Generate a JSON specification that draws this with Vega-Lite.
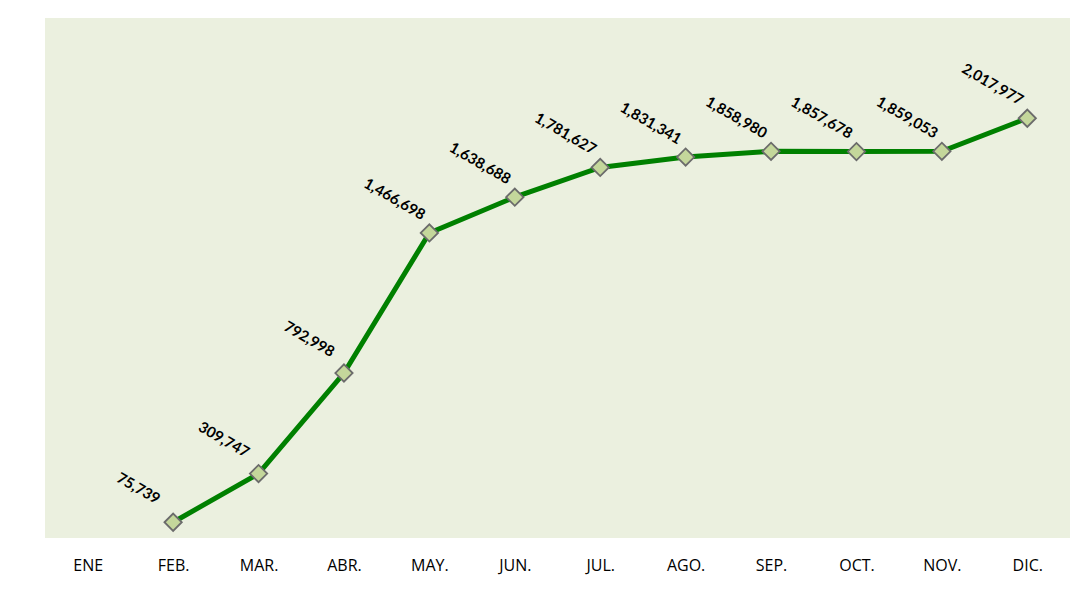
{
  "$schema": "https://vega.github.io/schema/vega-lite/v6.json",
  "width": 1025,
  "height": 520,
  "autosize": "none",
  "padding": {"left": 45, "top": 18, "right": 5, "bottom": 65},
  "background": "white",
  "config": {"view": {"fill": "#EBF0DF", "stroke": null}},
  "data": {"values": [
    {"mes": "ENE", "valor": null, "etiqueta": ""},
    {"mes": "FEB.", "valor": 75739, "etiqueta": "75,739"},
    {"mes": "MAR.", "valor": 309747, "etiqueta": "309,747"},
    {"mes": "ABR.", "valor": 792998, "etiqueta": "792,998"},
    {"mes": "MAY.", "valor": 1466698, "etiqueta": "1,466,698"},
    {"mes": "JUN.", "valor": 1638688, "etiqueta": "1,638,688"},
    {"mes": "JUL.", "valor": 1781627, "etiqueta": "1,781,627"},
    {"mes": "AGO.", "valor": 1831341, "etiqueta": "1,831,341"},
    {"mes": "SEP.", "valor": 1858980, "etiqueta": "1,858,980"},
    {"mes": "OCT.", "valor": 1857678, "etiqueta": "1,857,678"},
    {"mes": "NOV.", "valor": 1859053, "etiqueta": "1,859,053"},
    {"mes": "DIC.", "valor": 2017977, "etiqueta": "2,017,977"}
  ]},
  "encoding": {
    "x": {
      "field": "mes", "type": "nominal", "sort": null,
      "scale": {"type": "point", "padding": 0.5, "domain": ["ENE", "FEB.", "MAR.", "ABR.", "MAY.", "JUN.", "JUL.", "AGO.", "SEP.", "OCT.", "NOV.", "DIC."]},
      "axis": {"title": null, "domain": false, "ticks": false, "labelAngle": 0, "labelFont": "Open Sans", "labelFontSize": 16, "labelColor": "#000000", "labelPadding": 19, "grid": false}
    },
    "y": {
      "field": "valor", "type": "quantitative",
      "scale": {"domain": [0, 2500000], "nice": false},
      "axis": null
    }
  },
  "layer": [
    {
      "mark": {"type": "line", "color": "#008000", "strokeWidth": 5},
      "transform": [{"filter": "datum.valor != null"}]
    },
    {
      "mark": {"type": "point", "shape": "diamond", "filled": true, "fill": "#C4D79B", "stroke": "#6B6B6B", "strokeWidth": 1.8, "size": 300, "opacity": 1},
      "transform": [{"filter": "datum.valor != null"}]
    },
    {
      "mark": {"type": "text", "angle": 30, "align": "center", "baseline": "middle", "dx": -47, "dy": -12, "font": "Lato", "fontWeight": "bold", "fontSize": 15, "color": "#000000"},
      "transform": [{"filter": "datum.valor != null"}],
      "encoding": {"text": {"field": "etiqueta"}}
    }
  ]
}
